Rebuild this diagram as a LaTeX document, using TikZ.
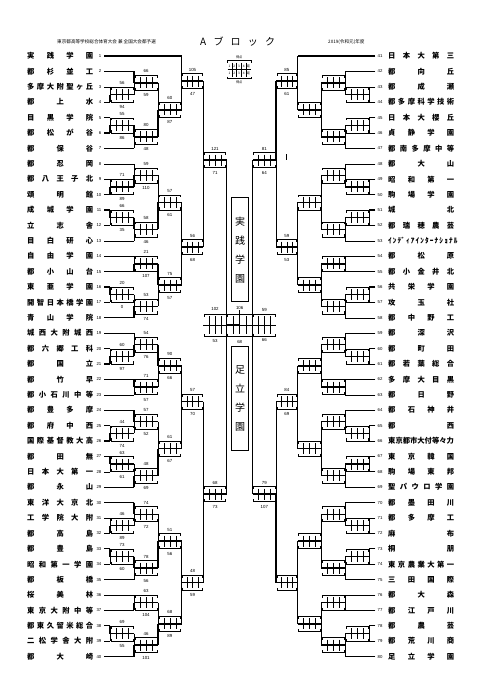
\documentclass[tikz,border=0pt]{standalone}
\usepackage{fontspec}
\setmainfont{Liberation Sans}
\newfontfamily\jp{Noto Sans CJK JP}
\usetikzlibrary{positioning}

% x of the bracket columns, left side; the right side is mirrored about 239.7
\def\colset{{104,110,134,158,181.7,203.3,226.7}}
% one game: side (1/-1), column, y top, y bottom, y of game line (empty: middle),
% winner (t/b), top total, bottom total
\newcommand{\game}[8]{%
  \pgfmathsetmacro\xo{\colset[#2]}%
  \pgfmathsetmacro\xe{\colset[#2+1]}%
  \pgfmathsetmacro\xa{239.7+#1*(\xo-239.7)}%
  \pgfmathsetmacro\xb{239.7+#1*(\xe-239.7)}%
  \edef\gy{#5}%
  \ifx\gy\empty\pgfmathsetmacro\gm{(#3+#4)/2}\else\edef\gm{#5}\fi
  \draw[ln] (\xa,#3) -- (\xa,#4);
  \if t#6\draw[wl] (\xa,#3) -- (\xa,\gm);\else\draw[wl] (\xa,#4) -- (\xa,\gm);\fi
  \draw[wl] (\xa,\gm) -- (\xb,\gm);
  \foreach \j in {1,2,3} \draw[ln] ({\xa+(\xb-\xa)*\j/4},\gm-5.5) -- ++(0,11);
  \draw[ln] ({\xa+#1},\gm-5) |- ({\xb-#1},\gm-7.5) -- ++(0,2.5);
  \draw[ln] ({\xa+#1},\gm+5) |- ({\xb-#1},\gm+7.5) -- ++(0,-2.5);
  \node[tot] at ({(\xa+\xb)/2},\gm-11.5) {#7};
  \node[tot] at ({(\xa+\xb)/2},\gm+12.5) {#8};
}

\begin{document}
\begin{tikzpicture}[x=1pt, y=-1pt,
  team/.style={anchor=west, inner sep=0pt, font=\jp\bfseries\fontsize{7.3}{8}\selectfont},
  seed/.style={inner sep=0pt, font=\fontsize{4.3}{5}\selectfont},
  head/.style={inner sep=0pt, font=\jp\fontsize{4.6}{5}\selectfont},
  tot/.style={inner sep=0pt, font=\fontsize{4.4}{5}\selectfont},
  key/.style={inner sep=0pt, font=\jp\fontsize{3.2}{4}\selectfont},
  winbox/.style={draw, line width=1pt, minimum width=16.6pt, inner sep=0pt,
    align=center, font=\jp\fontsize{10}{19}\selectfont},
  ln/.style={line width=0.45pt},
  wl/.style={line width=1.3pt},
]
\useasboundingbox (0,0) rectangle (481,680);

% header
\node[head, anchor=west] (ttl) at (57,42) {東京都高等学校総合体育大会 兼 全国大会都予選};
\node[inner sep=0pt, anchor=west, font=\jp\fontsize{10}{10}\selectfont] (blk) at (200,42)
  {\makebox[75pt][s]{A ブ ロ ッ ク}};
\node[head, anchor=west] (yr) at (328,42) {2019(令和元)年度};

% key to the score tables
\node[key] (keyT) at (239.2,57.5) {得点};
\node[key] (keyB) at (239.2,82) {得点};
\draw[ln] (227.5,62.5) |- (251,60.5) -- ++(0,2);
\draw[ln] (227.5,76.5) |- (251,78.5) -- ++(0,-2);
\draw[ln] (227.5,69.5) -- (251,69.5);
\foreach \q [count=\i] in {1,2,3,4,延} {
  \node[key] (kq\i) at ({224.9+4.7*\i},66) {\q};
  \node[key] (kr\i) at ({224.9+4.7*\i},73) {\q};
}
\foreach \i in {1,...,4} \draw[ln] ({227.25+4.7*\i},62.5) -- ++(0,14);

% left side: number/name/first column/won first game
\foreach \n/\s/\k/\t in {1/実 践 学 園/4/1, 2/都 杉 並 工/2/1, 3/多 摩 大 附 聖 ヶ 丘/1/0,
  4/都 上 水/1/1, 5/目 黒 学 院/1/0, 6/都 松 が 谷/1/1, 7/都 保 谷/2/0, 8/都 忍 岡/2/0,
  9/都 八 王 子 北/1/0, 10/頌 明 館/1/1, 11/成 城 学 園/1/1, 12/立 志 舎/1/0,
  13/目 白 研 心/2/0, 14/自 由 学 園/2/0, 15/都 小 山 台/2/1, 16/東 亜 学 園/1/1,
  17/開 智 日 本 橋 学 園/1/0, 18/青 山 学 院/2/1, 19/城 西 大 附 城 西/2/0,
  20/都 六 郷 工 科/1/0, 21/都 国 立/1/1, 22/都 竹 早/2/1, 23/都 小 石 川 中 等/2/0,
  24/都 豊 多 摩/2/1, 25/都 府 中 西/1/0, 26/国 際 基 督 教 大 高/1/1,
  27/都 田 無/1/1, 28/日 本 大 第 一/1/0, 29/都 永 山/2/1, 30/東 洋 大 京 北/2/1,
  31/工 学 院 大 附/1/0, 32/都 高 島/1/1, 33/都 豊 島/1/1, 34/昭 和 第 一 学 園/1/0,
  35/都 板 橋/2/0, 36/桜 美 林/2/0, 37/東 京 大 附 中 等/2/1,
  38/都 東 久 留 米 総 合/1/1, 39/二 松 学 舎 大 附/1/0, 40/都 大 崎/2/1} {
  \pgfmathsetmacro\yy{56+(\n-1)*15.4}
  \pgfmathsetmacro\xx{\colset[\k]}
  \node[team] (L\n) at (27,\yy) {\makebox[66pt][s]{\s}};
  \node[seed, anchor=east] (nL\n) at (101.5,\yy) {\n};
  \ifnum\t=1 \draw[wl] (104,\yy) -- (\xx,\yy); \else \draw[ln] (104,\yy) -- (\xx,\yy); \fi
}

% right side
\foreach \n/\s/\k/\t in {41/日 本 大 第 三/4/1, 42/都 向 丘/2/0, 43/都 成 瀬/1/0,
  44/都 多 摩 科 学 技 術/1/1, 45/日 本 大 櫻 丘/1/1, 46/貞 静 学 園/1/0,
  47/都 南 多 摩 中 等/2/0, 48/都 大 山/2/0, 49/昭 和 第 一/1/1, 50/駒 場 学 園/1/0,
  51/城 北/1/1, 52/都 瑞 穂 農 芸/1/0, 53/ｲ ﾝ ﾃﾞ ｨ ｱ ｲ ﾝ ﾀ ｰ ﾅ ｼ ｮ ﾅ ﾙ/2/0,
  54/都 松 原/2/0, 55/都 小 金 井 北/2/1, 56/共 栄 学 園/1/1, 57/攻 玉 社/1/0,
  58/都 中 野 工/2/0, 59/都 深 沢/2/0, 60/都 町 田/1/1, 61/都 若 葉 総 合/1/0,
  62/多 摩 大 目 黒/2/1, 63/都 日 野/2/0, 64/都 石 神 井/2/1, 65/都 西/1/1,
  66/東京都市大付等々力/1/0, 67/東 京 韓 国/1/0, 68/駒 場 東 邦/1/1,
  69/聖 パ ウ ロ 学 園/2/0, 70/都 墨 田 川/2/1, 71/都 多 摩 工/1/0, 72/麻 布/1/1,
  73/桐 朋/1/1, 74/東 京 農 業 大 第 一/1/0, 75/三 田 国 際/2/0, 76/都 大 森/2/0,
  77/都 江 戸 川/2/1, 78/都 農 芸/1/1, 79/都 荒 川 商/1/0, 80/足 立 学 園/2/1} {
  \pgfmathsetmacro\yy{56+(\n-41)*15.4}
  \pgfmathsetmacro\xx{479.4-\colset[\k]}
  \node[team] (R\n) at (388,\yy) {\makebox[66pt][s]{\s}};
  \node[seed, anchor=west] (nR\n) at (377.5,\yy) {\n};
  \ifnum\t=1 \draw[wl] (375.4,\yy) -- (\xx,\yy); \else \draw[ln] (375.4,\yy) -- (\xx,\yy); \fi
}

% left bracket
\foreach \k/\ya/\yb/\yg/\w/\ta/\tb in {
  1/86.8/102.2//b/56/94, 1/117.6/133//b/55/86, 1/179.2/194.6//b/71/89,
  1/210/225.4//t/66/35, 1/287/302.4//t/20/0, 1/348.6/364//b/60/97,
  1/425.6/441//b/44/74, 1/456.4/471.8//t/63/61, 1/518/533.4//b/46/89,
  1/548.8/564.2//t/73/60, 1/625.8/641.2//t/69/55,
  2/71.4/94.5//t/66/59, 2/125.3/148.4//t/80/48, 2/163.8/186.9//b/59/110,
  2/217.7/240.8//t/58/46, 2/256.2/271.6//b/21/107, 2/294.7/317.8//b/53/74,
  2/333.2/356.3//b/54/76, 2/379.4/394.8//t/71/57, 2/410.2/433.3//t/57/52,
  2/464.1/487.2//b/48/69, 2/502.6/525.7//t/74/72, 2/556.5/579.6//t/78/56,
  2/595/610.4//b/63/104, 2/633.5/656.6//b/46/101,
  3/82.95/136.85//b/60/87, 3/175.35/229.25//b/57/61, 3/263.9/306.25//t/75/57,
  3/344.75/387.1//t/90/66, 3/421.75/475.65//b/61/67, 3/514.15/568.05//b/51/56,
  3/602.7/645.05//b/68/89,
  4/56/109.9/81/t/105/47, 4/202.3/285.08/247/b/56/68, 4/365.9/448.7/401.5/b/57/70,
  4/541.1/623.9//b/48/59,
  5/81/247/160/t/121/71, 5/401.5/582.5/494/b/68/73}
  {\game{1}{\k}{\ya}{\yb}{\yg}{\w}{\ta}{\tb}}

% right bracket
\foreach \k/\ya/\yb/\yg/\w/\ta/\tb in {
  1/86.8/102.2//b//, 1/117.6/133//t//, 1/179.2/194.6//t//, 1/210/225.4//t//,
  1/287/302.4//t//, 1/348.6/364//t//, 1/425.6/441//t//, 1/456.4/471.8//b//,
  1/518/533.4//b//, 1/548.8/564.2//t//, 1/625.8/641.2//t//,
  2/71.4/94.5//b//, 2/125.3/148.4//t//, 2/163.8/186.9//b//, 2/217.7/240.8//t//,
  2/256.2/271.6//b//, 2/294.7/317.8//t//, 2/333.2/356.3//b//, 2/379.4/394.8//t//,
  2/410.2/433.3//t//, 2/464.1/487.2//t//, 2/502.6/525.7//t//, 2/556.5/579.6//t//,
  2/595/610.4//b//, 2/633.5/656.6//b//,
  3/82.95/136.85//t//, 3/175.35/229.25//t//, 3/263.9/306.25//t//, 3/344.75/387.1//t//,
  3/421.75/475.65//t//, 3/514.15/568.05//t//, 3/602.7/645.05//b//,
  4/56/109.9/81/t/85/61, 4/202.3/285.08/247/t/59/53, 4/365.9/448.7/401.5/t/84/69,
  4/541.1/623.9//b//,
  5/81/247/160/t/81/64, 5/401.5/582.5/494/b/79/107}
  {\game{-1}{\k}{\ya}{\yb}{\yg}{\w}{\ta}{\tb}}
\draw[ln] (286,154) -- (286,160);

% block finals in the centre
\draw[ln] (226.7,160) -- (226.7,494);
\draw[wl] (226.7,160) -- (226.7,325);
\draw[ln] (252.7,160) -- (252.7,494);
\draw[wl] (252.7,494) -- (252.7,325);
\foreach \xa/\xb in {226.7/203.3, 252.7/276.1, 226.7/252.7} {
  \foreach \j in {1,2,3} \draw[ln] ({\xa+(\xb-\xa)*\j/4},316) -- ++(0,18);
  \draw[ln] ({\xa+(\xb-\xa)/40},316.5) |- ({\xb-(\xb-\xa)/40},314) -- ++(0,2.5);
  \draw[ln] ({\xa+(\xb-\xa)/40},333.5) |- ({\xb-(\xb-\xa)/40},336) -- ++(0,-2.5);
}
\node[tot] (sfL1) at (215,309) {102};
\node[tot] (sfL2) at (215,341) {53};
\node[tot] (sfR1) at (264.4,310) {59};
\node[tot] (sfR2) at (264.4,340) {66};
\node[tot] (fin1) at (239.7,308) {106};
\node[tot] (fin2) at (239.7,342) {68};
\draw[ln] (203.3,325) -- (276.1,325);
\draw[wl] (226.7,325) -- (239.7,325) -- (fin1.south);

% block winners
\node[winbox, minimum height=103.7pt] (win1) at (240,249.8) {実\\践\\学\\園};
\node[winbox, minimum height=103.3pt] (win2) at (240,398.4) {足\\立\\学\\園};

\end{tikzpicture}
\end{document}
